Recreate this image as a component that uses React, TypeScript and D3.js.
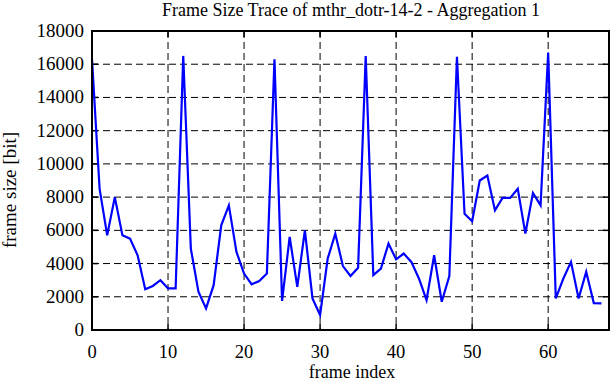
import React from "react";
import * as d3 from "d3";

const frameSizes: number[] = [
  16300, 8500, 5700, 8000, 5700, 5500, 4500, 2450, 2650, 3000,
  2500, 2500, 16500, 4900, 2300, 1300, 2700, 6300, 7500, 4700,
  3400, 2750, 2950, 3400, 16300, 1750, 5600, 2600, 6000, 1900,
  900, 4300, 5800, 3850, 3250, 3750, 16500, 3300, 3700, 5200,
  4250, 4600, 4100, 3100, 1800, 4500, 1700, 3250, 16450, 7000,
  6550, 9000, 9300, 7200, 7950, 7950, 8500, 5800, 8250, 7500,
  16700, 1900, 3100, 4100, 1900, 3500, 1620, 1600,
];
const xTicks: number[] = [0, 10, 20, 30, 40, 50, 60];
const yTicks: number[] = [0, 2000, 4000, 6000, 8000, 10000, 12000, 14000, 16000, 18000];
const titleText = "Frame Size Trace of mthr_dotr-14-2 - Aggregation 1";
const xLabel = "frame index";
const yLabel = "frame size [bit]";

const W = 612, H = 382;
const L = 92, R = 609, T = 31, B = 330;
const FONT = "'Liberation Serif', 'Times New Roman', serif";

export default function App() {
  const x = d3.scaleLinear().domain([0, 68]).range([L, R]);
  const y = d3.scaleLinear().domain([0, 18000]).range([B, T]);
  const line = d3
    .line<number>()
    .x((_, i) => x(i))
    .y((d) => y(d));
  const path = line(frameSizes) || "";
  return (
    <svg
      width={W}
      height={H}
      style={{ position: "absolute", left: 0, top: 0, background: "#fff" }}
      fontFamily={FONT}
    >
      <rect x={0} y={0} width={W} height={H} fill="#fff" />
      {xTicks.filter((t) => t > 0).map((t) => (
        <line key={"gx" + t} x1={x(t)} x2={x(t)} y1={T} y2={B} stroke="#000" strokeWidth={1} strokeDasharray="7,4" />
      ))}
      {yTicks.filter((t) => t > 0 && t < 18000).map((t) => (
        <line key={"gy" + t} x1={L} x2={R} y1={y(t)} y2={y(t)} stroke="#000" strokeWidth={1} strokeDasharray="7,4" />
      ))}
      {xTicks.map((t) => (
        <g key={"tx" + t}>
          <line x1={x(t)} x2={x(t)} y1={B} y2={B - 6} stroke="#000" strokeWidth={1.5} />
          <line x1={x(t)} x2={x(t)} y1={T} y2={T + 6} stroke="#000" strokeWidth={1.5} />
          <text x={x(t)} y={358} textAnchor="middle" fontSize={18.5}>{t}</text>
        </g>
      ))}
      {yTicks.map((t) => (
        <g key={"ty" + t}>
          <line x1={L} x2={L + 6} y1={y(t)} y2={y(t)} stroke="#000" strokeWidth={1.5} />
          <line x1={R} x2={R - 6} y1={y(t)} y2={y(t)} stroke="#000" strokeWidth={1.5} />
          <text x={84} y={y(t) + 6} textAnchor="end" fontSize={19}>{t}</text>
        </g>
      ))}
      <path d={path} fill="none" stroke="#0000ff" strokeWidth={2.2} strokeLinejoin="miter" />
      <rect x={L} y={T} width={R - L} height={B - T} fill="none" stroke="#000" strokeWidth={2} />
      <text x={351} y={16} textAnchor="middle" fontSize={18}>{titleText}</text>
      <text x={352} y={377.5} textAnchor="middle" fontSize={18}>{xLabel}</text>
      <text transform={`translate(16,190) rotate(-90)`} textAnchor="middle" fontSize={19}>{yLabel}</text>
    </svg>
  );
}
